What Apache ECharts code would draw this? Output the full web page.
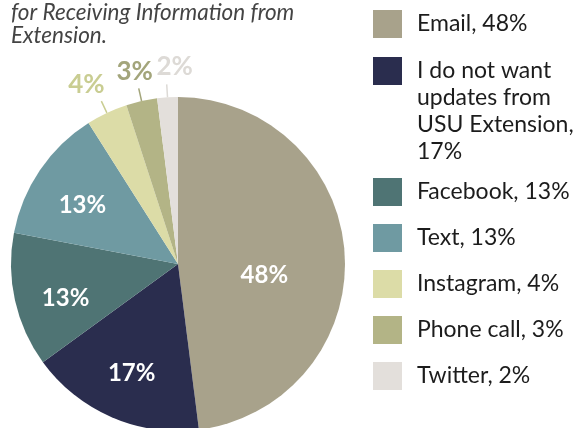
<!DOCTYPE html>
<html><head><meta charset="utf-8">
<script src="https://cdn.jsdelivr.net/npm/echarts@6/dist/echarts.min.js"></script>
<style>html,body{margin:0;padding:0;background:#fff}#c{width:579px;height:428px}</style>
</head><body><div id="c"></div>
<script>
// ---- data ----
const categories = ['Email', 'I do not want updates from USU Extension', 'Facebook', 'Text', 'Instagram', 'Phone call', 'Twitter'];
const values = [48, 17, 13, 13, 4, 3, 2];
const legendLabels = ['Email, 48%', 'I do not want\nupdates from\nUSU Extension,\n17%', 'Facebook, 13%', 'Text, 13%', 'Instagram, 4%', 'Phone call, 3%', 'Twitter, 2%'];
const titleText = 'for Receiving Information from\nExtension.';

// ---- styles ----
const sliceColors = ['#a8a28b', '#2a2d4e', '#4f7474', '#6f9aa2', '#dcdca7', '#b3b486', '#e3dfdb'];
const outsideLabelColors = { 4: '#c9cd92', 5: '#a3a57b', 6: '#dddad6' };
// label nudges (px) relative to ECharts default label anchor
const labelNudge = [[0, 17], [-12, 30], [-28, 15], [-24, -10], [-10, -4], [1, -4], [13, -5]];

const FONT = 'Lato, "Noto Sans", sans-serif';
const data = categories.map((name, i) => {
  const item = { name: name, value: values[i], itemStyle: { color: sliceColors[i] } };
  if (outsideLabelColors[i]) {
    item.label = { position: 'outside', color: outsideLabelColors[i], fontSize: 26 };
    item.labelLine = { show: true, length: 13, length2: 0, lineStyle: { color: outsideLabelColors[i], width: 1.5 } };
  }
  return item;
});

const legendText = { fontFamily: FONT, fontSize: 23, lineHeight: 27, color: '#1c1c1c', padding: [0, 0, 0, 10] };
const legendBase = {
  orient: 'vertical', left: 373, padding: 0, itemWidth: 29, itemHeight: 28, itemGap: 18,
  icon: 'rect', selectedMode: false, textStyle: legendText,
  formatter: name => legendLabels[categories.indexOf(name)]
};

const chart = echarts.init(document.getElementById('c'));
chart.setOption({
  animation: false,
  backgroundColor: '#fff',
  title: {
    text: titleText, left: 11, top: 1, padding: 0,
    textStyle: { fontFamily: FONT, fontStyle: 'italic', fontWeight: 'normal', fontSize: 22.5, lineHeight: 23, color: '#444444' }
  },
  legend: [
    Object.assign({}, legendBase, { data: [categories[0]], top: 10 }),
    Object.assign({}, legendBase, { data: [categories[1]], top: 57 - 80.5,
      formatter: name => '\n\n\n' + legendLabels[categories.indexOf(name)] }),
    Object.assign({}, legendBase, { data: categories.slice(2), top: 178 })
  ],
  series: [{
    type: 'pie',
    center: [178, 264],
    radius: 167,
    startAngle: 90,
    clockwise: true,
    avoidLabelOverlap: false,
    label: {
      show: true, position: 'inside', formatter: '{c}%',
      color: '#ffffff', fontFamily: FONT, fontWeight: 'bold', fontSize: 24
    },
    labelLine: { show: false },
    labelLayout: function (p) {
      const n = labelNudge[p.dataIndex];
      const o = { dx: n[0], dy: n[1] };
      if (p.dataIndex >= 4) { o.align = 'center'; o.verticalAlign = 'bottom'; }
      return o;
    },
    data: data
  }]
});
</script></body></html>
